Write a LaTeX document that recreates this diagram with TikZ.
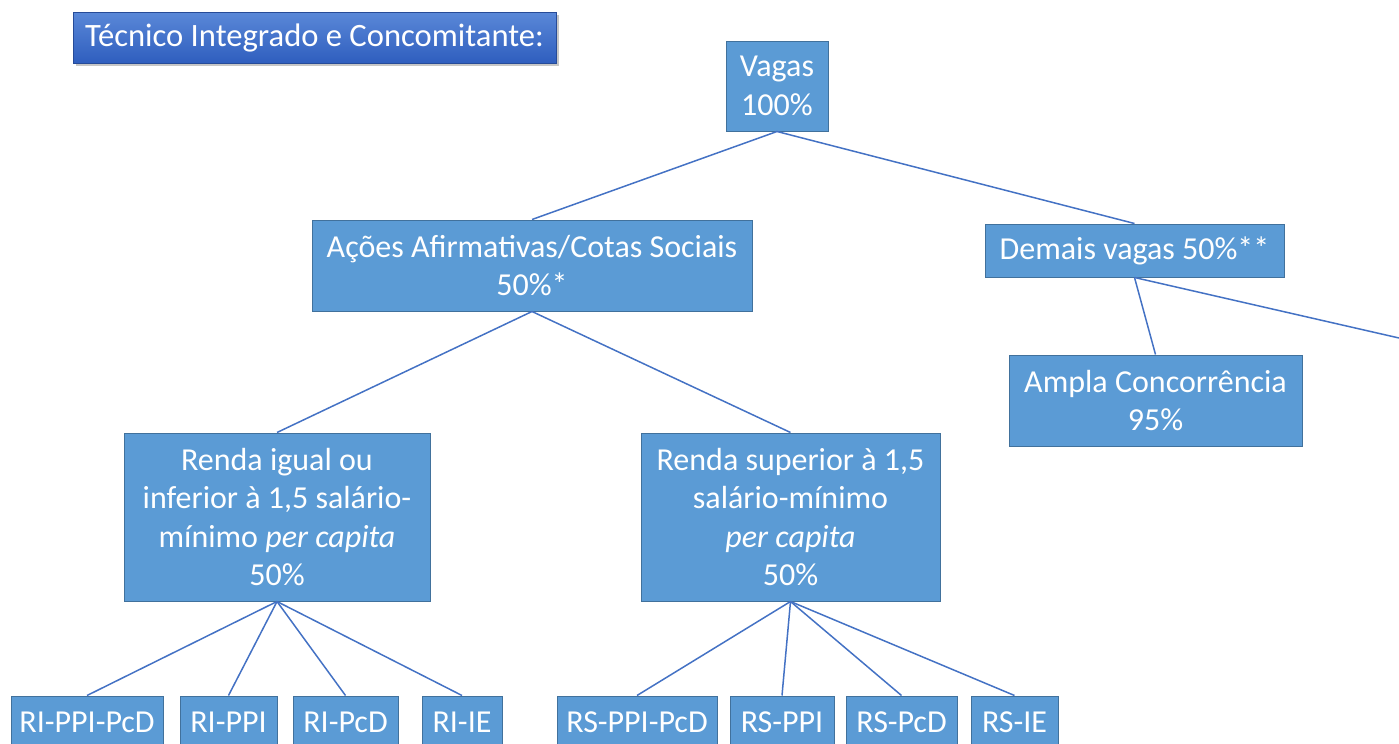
\documentclass[tikz,border=0pt]{standalone}
\usepackage{fontspec}
\setmainfont{Carlito}
\usetikzlibrary{shadows}
\definecolor{boxblue}{HTML}{5B9BD5}
\definecolor{boxedge}{HTML}{41719C}
\definecolor{linkblue}{HTML}{4472C4}
\definecolor{titletop}{HTML}{5A88D8}
\definecolor{titlebot}{HTML}{2F5EBE}
\begin{document}
\begin{tikzpicture}[x=0.5pt,y=-0.5pt,
        every node/.style = {text = white,align = center,inner sep = 0pt,
            font = \fontsize{16}{19.3}\selectfont},
        box/.style = {draw = boxedge,fill = boxblue,line width = 0.5pt},
        leaf/.style = {box,minimum height = 26.5pt},
        link/.style = {draw = linkblue,line width = 0.75pt}]
        \useasboundingbox (0,0) rectangle (1399,744);
        \clip (0,0) rectangle (1399,744);
        % title
        \node [draw = titlebot!80!black,line width = 0.4pt,top color = titletop,bottom color = titlebot,
            drop shadow = {shadow xshift = 1.5pt,shadow yshift = -1.5pt,opacity = 0.45},
            minimum width = 241.5pt,minimum height = 25.5pt,font = \fontsize{16.3}{19.3}\selectfont]
            (title) at (314.5,37.5) {Técnico Integrado e Concomitante:};
        % tree
        \node [box,minimum width = 51pt,minimum height = 45pt] (vagas) at (777,86) {Vagas\\100\%};
        \node [box,minimum width = 220pt,minimum height = 45.5pt] (acoes) at (532,265.5)
            {Ações Afirmativas/Cotas Sociais\\50\%*};
        \node [box,minimum width = 149.5pt,minimum height = 26.5pt] (demais) at (1134.5,250.5)
            {Demais vagas 50\%**};
        \node [box,minimum width = 146.5pt,minimum height = 45.5pt] (ampla) at (1155.5,400.5)
            {Ampla Concorrência\\95\%};
        \coordinate (fora) at (1399,338);
        \node [box,minimum width = 153pt,minimum height = 84pt] (rendaI) at (277,517)
            {Renda igual ou\\inferior à 1,5 salário-\\mínimo \textit{per capita}\\50\%};
        \node [box,minimum width = 149.5pt,minimum height = 84pt] (rendaS) at (790.5,517)
            {Renda superior à 1,5\\salário-mínimo\\\textit{per capita}\\50\%};
        % leaves
        \node [leaf,minimum width = 76pt] (riPPIPcD) at (87,722.5) {RI-PPI-PcD};
        \node [leaf,minimum width = 48.5pt] (riPPI) at (228.5,722.5) {RI-PPI};
        \node [leaf,minimum width = 52.5pt] (riPcD) at (345.5,722.5) {RI-PcD};
        \node [leaf,minimum width = 40pt] (riIE) at (462,722.5) {RI-IE};
        \node [leaf,minimum width = 80pt] (rsPPIPcD) at (637,722.5) {RS-PPI-PcD};
        \node [leaf,minimum width = 52pt] (rsPPI) at (782,722.5) {RS-PPI};
        \node [leaf,minimum width = 55.5pt] (rsPcD) at (901.5,722.5) {RS-PcD};
        \node [leaf,minimum width = 43.5pt] (rsIE) at (1014.5,722.5) {RS-IE};
        % links
        \draw [link] (vagas.south) -- (acoes.north);
        \draw [link] (vagas.south) -- (demais.north);
        \draw [link] (acoes.south) -- (rendaI.north);
        \draw [link] (acoes.south) -- (rendaS.north);
        \draw [link] (demais.south) -- (ampla.north);
        \draw [link] (demais.south) -- (fora);
        \foreach \leafname in {riPPIPcD,riPPI,riPcD,riIE}
            \draw [link] (rendaI.south) -- (\leafname.north);
        \foreach \leafname in {rsPPIPcD,rsPPI,rsPcD,rsIE}
            \draw [link] (rendaS.south) -- (\leafname.north);
    \end{tikzpicture}
\end{document}
